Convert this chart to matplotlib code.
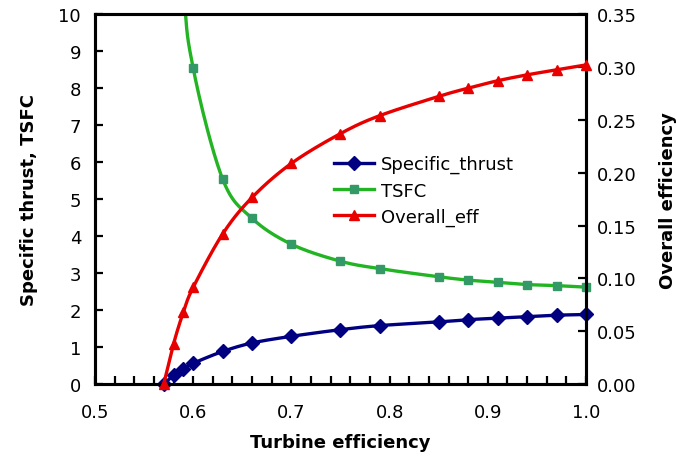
import numpy as np
import matplotlib.pyplot as plt
from matplotlib.ticker import MultipleLocator, FormatStrFormatter

# turbine efficiency sweep
eta_t = [0.57, 0.58, 0.59, 0.60, 0.63, 0.66, 0.70, 0.75, 0.79, 0.85, 0.88, 0.91, 0.94, 0.97, 1.00]
spec_thrust = [0.0, 0.24, 0.41, 0.56, 0.88, 1.11, 1.29, 1.47, 1.58, 1.68, 1.74, 1.78, 1.82, 1.86, 1.88]
overall_eff = [0.0, 0.038, 0.068, 0.0915, 0.142, 0.1766, 0.2088, 0.237, 0.254,
               0.2722, 0.280, 0.287, 0.2926, 0.2973, 0.302]
# TSFC is undefined at zero thrust, so it starts one step later
eta_tsfc = eta_t[1:]
tsfc = [18.0, 11.0, 8.54, 5.54, 4.48, 3.78, 3.32, 3.12, 2.90, 2.81, 2.75, 2.69, 2.66, 2.62]


def smooth(x, y, n=30):
    # Catmull-Rom style smoothing similar to spreadsheet "smoothed line"
    x = np.asarray(x, float)
    y = np.asarray(y, float)
    px = np.concatenate([[x[0]], x, [x[-1]]])
    py = np.concatenate([[y[0]], y, [y[-1]]])
    xs, ys = [], []
    t = np.linspace(0, 1, n)
    for i in range(1, len(px) - 2):
        p0x, p1x, p2x, p3x = px[i - 1], px[i], px[i + 1], px[i + 2]
        p0y, p1y, p2y, p3y = py[i - 1], py[i], py[i + 1], py[i + 2]
        c1x = p1x + (p2x - p0x) / 6
        c1y = p1y + (p2y - p0y) / 6
        c2x = p2x - (p3x - p1x) / 6
        c2y = p2y - (p3y - p1y) / 6
        bx = (1 - t) ** 3 * p1x + 3 * (1 - t) ** 2 * t * c1x + 3 * (1 - t) * t ** 2 * c2x + t ** 3 * p2x
        by = (1 - t) ** 3 * p1y + 3 * (1 - t) ** 2 * t * c1y + 3 * (1 - t) * t ** 2 * c2y + t ** 3 * p2y
        xs.extend(bx)
        ys.extend(by)
    return np.array(xs), np.array(ys)


plt.rcParams['font.family'] = 'DejaVu Sans'
fig = plt.figure(figsize=(6.77, 4.60), dpi=100)
ax = fig.add_axes([0.1403, 0.163, 0.7253, 0.804])
ax2 = ax.twinx()

blue = '#000080'
green = '#22B422'
green_m = '#339966'
red = '#E80000'

sx, sy = smooth(eta_t, spec_thrust)
ax.plot(sx, sy, color=blue, lw=2.4)
ax.plot(eta_t, spec_thrust, ls='none', marker='D', ms=7, color=blue, clip_on=False, zorder=3)

tx, ty = smooth(eta_tsfc, tsfc)
ax.plot(tx, ty, color=green, lw=2.4)
ax.plot(eta_tsfc, tsfc, ls='none', marker='s', ms=6, color=green_m, clip_on=False, zorder=3)

ox, oy = smooth(eta_t, overall_eff)
ax2.plot(ox, oy, color=red, lw=2.4)
ax2.plot(eta_t, overall_eff, ls='none', marker='^', ms=7, color=red, clip_on=False, zorder=3)

ax.set_xlim(0.5, 1.0)
ax.set_ylim(0, 10)
ax2.set_ylim(0, 0.35)

ax.xaxis.set_major_locator(MultipleLocator(0.1))
ax.xaxis.set_minor_locator(MultipleLocator(0.02))
ax.xaxis.set_major_formatter(FormatStrFormatter('%.1f'))
ax.yaxis.set_major_locator(MultipleLocator(1))
ax2.yaxis.set_major_locator(MultipleLocator(0.05))
ax2.yaxis.set_major_formatter(FormatStrFormatter('%.2f'))

for a in (ax, ax2):
    for s in a.spines.values():
        s.set_linewidth(2.2)
    a.tick_params(which='both', direction='in', length=6, width=1.6, labelsize=13, pad=8)
ax.tick_params(axis='x', pad=14)
ax.tick_params(axis='y', pad=10)

ax.set_xlabel('Turbine efficiency', fontsize=13, fontweight='bold', labelpad=8)
ax.set_ylabel('Specific thrust, TSFC', fontsize=13, fontweight='bold', labelpad=15)
ax2.set_ylabel('Overall efficiency', fontsize=13, fontweight='bold', labelpad=16)

handles = [
    plt.Line2D([], [], color=blue, lw=2.4, marker='D', ms=7),
    plt.Line2D([], [], color=green, lw=2.4, marker='s', ms=6, mfc=green_m, mec=green_m),
    plt.Line2D([], [], color=red, lw=2.4, marker='^', ms=7),
]
ax2.legend(handles, ['Specific_thrust', 'TSFC', 'Overall_eff'], loc='upper left',
           bbox_to_anchor=(0.48, 0.68), bbox_transform=fig.transFigure,
           frameon=False, fontsize=13, handlelength=2.2, labelspacing=0.45,
           handletextpad=0.4, borderpad=0)

fig.savefig('out.png', dpi=100)
